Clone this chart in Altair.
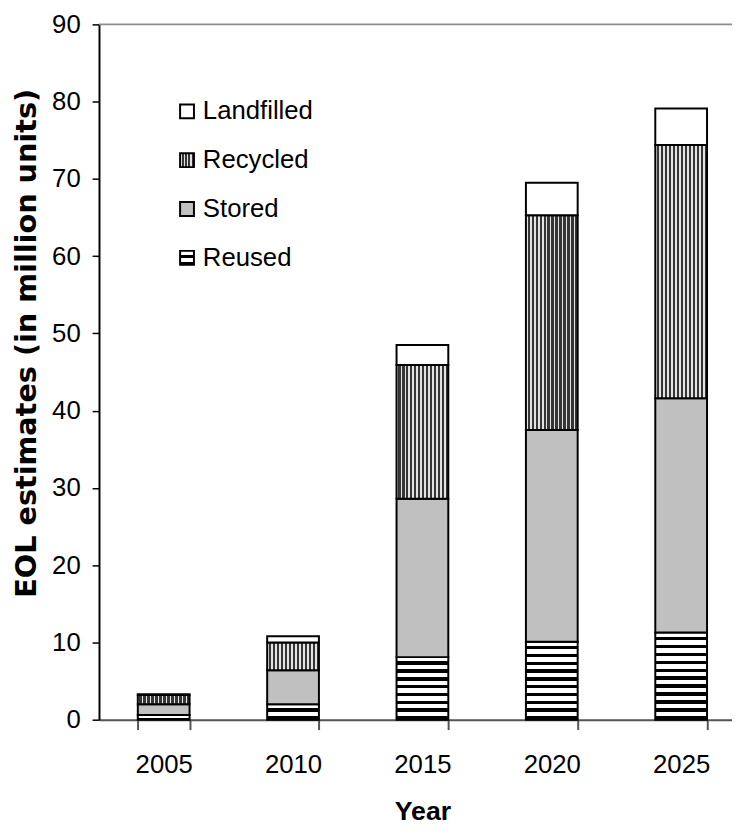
import altair as alt
import pandas as pd

# ---- data ----
years = ["2005", "2010", "2015", "2020", "2025"]
categories = ["Reused", "Stored", "Recycled", "Landfilled"]   # bottom -> top
reused = [0.6, 2.0, 8.1, 10.1, 11.3]
stored = [1.4, 4.4, 20.5, 27.4, 30.3]
recycled = [1.2, 3.6, 17.3, 27.8, 32.8]
landfilled = [0.1, 0.8, 2.6, 4.2, 4.7]
legend_order = ["Landfilled", "Recycled", "Stored", "Reused"]
y_ticks = [0, 10, 20, 30, 40, 50, 60, 70, 80, 90]

series = {"Reused": reused, "Stored": stored, "Recycled": recycled, "Landfilled": landfilled}
rows = []
for ci, cat in enumerate(categories):
    for yi, yr in enumerate(years):
        rows.append({"year": yr, "category": cat, "value": series[cat][yi], "order": ci})
df = pd.DataFrame(rows)

LABEL_FONT = "Liberation Sans Narrow, Arial Narrow, Liberation Sans, sans-serif"


# ---- pattern-like fills made of hard-stop gradients ----
def hstripes(n, white_frac=0.55):
    stops = []
    for i in range(n):
        a = i / n
        b = (i + white_frac) / n
        c = (i + 1) / n
        stops += [{"offset": a, "color": "white"}, {"offset": b, "color": "white"},
                  {"offset": b, "color": "black"}, {"offset": c, "color": "black"}]
    return {"gradient": "linear", "x1": 0, "y1": 0, "x2": 0, "y2": 1, "stops": stops}


def vstripes(n, light_frac=0.42):
    stops = []
    for i in range(n):
        a = i / n
        b = (i + light_frac) / n
        c = (i + 1) / n
        stops += [{"offset": a, "color": "#e2e2e2"}, {"offset": b, "color": "#e2e2e2"},
                  {"offset": b, "color": "#353535"}, {"offset": c, "color": "#353535"}]
    return {"gradient": "linear", "x1": 0, "y1": 0, "x2": 1, "y2": 0, "stops": stops}


conds = [
    {"test": "datum.category === 'Landfilled'", "value": "white"},
    {"test": "datum.category === 'Stored'", "value": "#c0c0c0"},
    {"test": "datum.category === 'Recycled'", "value": vstripes(13)},
]
for yi, yr in enumerate(years):
    n = max(1, int(round(reused[yi])))
    conds.append({"test": f"datum.category === 'Reused' && datum.year === '{yr}'",
                  "value": hstripes(n)})
bar_fill = {"condition": conds, "value": "white"}

legend_fill = {"condition": [
    {"test": "datum.category === 'Landfilled'", "value": "white"},
    {"test": "datum.category === 'Stored'", "value": "#c0c0c0"},
    {"test": "datum.category === 'Recycled'", "value": vstripes(4)},
    {"test": "datum.category === 'Reused'", "value": hstripes(2)},
], "value": "white"}

bars = alt.Chart(df).mark_bar(stroke="black", strokeWidth=2).encode(
    x=alt.X("year:N", sort=years,
            scale=alt.Scale(range=[0, 654], paddingInner=0.6, paddingOuter=0.3),
            axis=alt.Axis(title="Year", labelAngle=0, tickBand="extent", tickSize=10,
                          tickColor="#555555", tickWidth=2, domainColor="#555555",
                          domainWidth=2, labelFont=LABEL_FONT, labelFontSize=26,
                          labelPadding=22, labelColor="black",
                          titleFont="Liberation Sans", titleFontWeight="bold",
                          titleFontSize=27, titleColor="black", titleX=327, titleY=93,
                          titleBaseline="middle")),
    y=alt.Y("value:Q", stack="zero",
            scale=alt.Scale(domain=[0, 90], nice=False),
            axis=alt.Axis(title="EOL estimates (in million units)", values=y_ticks,
                          grid=False, tickSize=7, tickColor="black", tickWidth=1.5,
                          domainColor="black", domainWidth=2, labelFont=LABEL_FONT,
                          labelFontSize=26, labelPadding=12, labelColor="black",
                          titleFont="DejaVu Sans", titleFontWeight="bold",
                          titleFontSize=29, titleColor="black", titleX=-73, titleY=322,
                          titleBaseline="middle", titleAngle=270)),
    order=alt.Order("order:Q", sort="ascending"),
    fill=bar_fill,
)

top_line = alt.Chart(pd.DataFrame({"a": [0]})).mark_rule(
    color="#8c8c8c", strokeWidth=2).encode(y=alt.value(0))

leg_df = pd.DataFrame({"category": legend_order})
leg_y = alt.Y("category:N", sort=legend_order,
              scale=alt.Scale(type="point", range=[88, 236], padding=0), axis=None)

leg_sq = alt.Chart(leg_df).mark_square(size=196, stroke="black", strokeWidth=2,
                                       opacity=1).encode(
    x=alt.value(89), y=leg_y, fill=legend_fill)

leg_txt = alt.Chart(leg_df).mark_text(align="left", baseline="middle", font=LABEL_FONT,
                                      fontSize=26, color="black").encode(
    x=alt.value(105), y=leg_y, text="category:N")

chart = alt.layer(bars, top_line, leg_sq, leg_txt).resolve_scale(
    y="independent"
).properties(
    width=640, height=703,
    padding={"left": 92, "top": 12, "right": 0, "bottom": 110},
    autosize=alt.AutoSizeParams(type="none"),
).configure_view(stroke=None)

chart.save("out.html", embed_options={"renderer": "svg", "actions": False})
